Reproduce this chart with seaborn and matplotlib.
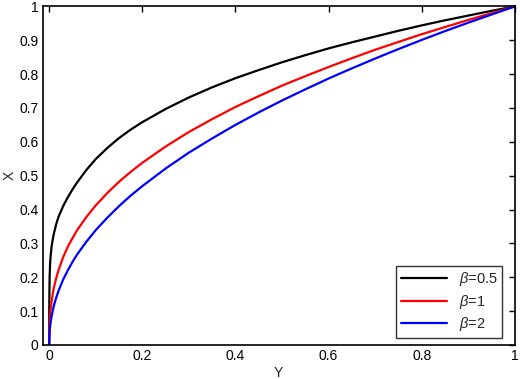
import matplotlib
matplotlib.use("Agg")
import matplotlib.pyplot as plt
import seaborn as sns
import pandas as pd

sns.set_theme(style="white")
plt.rcParams['font.family'] = ['Liberation Sans', 'DejaVu Sans']
plt.rcParams['mathtext.fontset'] = 'custom'
plt.rcParams['mathtext.it'] = 'Liberation Sans:italic'

y_vals = [0, 0.0002, 0.0005, 0.001, 0.002, 0.003, 0.005, 0.0075, 0.01, 0.015,
          0.02, 0.03, 0.04, 0.05, 0.06, 0.08, 0.1, 0.125, 0.15, 0.175, 0.2,
          0.25, 0.3, 0.35, 0.4, 0.45, 0.5, 0.55, 0.6, 0.65, 0.7, 0.75, 0.8,
          0.85, 0.9, 0.95, 1.0]
x_beta05 = [0, 0.10, 0.15, 0.20, 0.24, 0.26, 0.288, 0.31, 0.328, 0.356,
            0.378, 0.41, 0.436, 0.459, 0.48, 0.517, 0.549, 0.582, 0.611, 0.636, 0.658,
            0.697, 0.731, 0.761, 0.788, 0.812, 0.835, 0.856, 0.876, 0.894, 0.911, 0.928, 0.944,
            0.959, 0.973, 0.987, 1.0]
x_beta1 = [0, 0.03, 0.05, 0.07, 0.09, 0.105, 0.125, 0.15, 0.168, 0.197,
           0.22, 0.259, 0.29, 0.315, 0.339, 0.378, 0.412, 0.449, 0.482, 0.511, 0.538,
           0.586, 0.629, 0.667, 0.703, 0.735, 0.766, 0.794, 0.821, 0.847, 0.872, 0.895, 0.918,
           0.939, 0.960, 0.980, 1.0]
x_beta2 = [0, 0.015, 0.028, 0.039, 0.054, 0.065, 0.083, 0.10, 0.115, 0.139,
           0.159, 0.193, 0.220, 0.245, 0.267, 0.305, 0.339, 0.376, 0.410, 0.441, 0.469,
           0.521, 0.568, 0.610, 0.650, 0.687, 0.722, 0.755, 0.787, 0.817, 0.846, 0.874, 0.901,
           0.927, 0.952, 0.976, 1.0]
labels = [r'$\beta$=0.5', r'$\beta$=1', r'$\beta$=2']
colors = ['#000000', '#ff0000', '#0000ff']

frames = []
for lab, xs in zip(labels, [x_beta05, x_beta1, x_beta2]):
    frames.append(pd.DataFrame({'Y': y_vals, 'X': xs, 'series': lab}))
df = pd.concat(frames, ignore_index=True)

fig = plt.figure(figsize=(5.2, 3.79), dpi=100)
ax = fig.add_axes([0.082, 0.09, 0.908, 0.893])
sns.lineplot(data=df, x='Y', y='X', hue='series', palette=colors,
             hue_order=labels, linewidth=1.6, ax=ax, sort=False,
             estimator=None)

ax.set_xlim(-0.014, 1.0)
ax.set_ylim(0, 1)
ax.set_xticks([0, 0.2, 0.4, 0.6, 0.8, 1])
ax.set_xticklabels(['0', '0.2', '0.4', '0.6', '0.8', '1'])
ax.set_yticks([i / 10 for i in range(11)])
ax.set_yticklabels(['0'] + [f'{i/10:g}' for i in range(1, 10)] + ['1'])
ax.tick_params(direction='in', length=4, width=1, top=True, right=True,
               labelsize=10, colors='black', pad=3)
for s in ax.spines.values():
    s.set_visible(True)
    s.set_color('black')
    s.set_linewidth(1.2)
ax.set_xlabel('Y', fontsize=10, labelpad=2)
ax.set_ylabel('X', fontsize=10, labelpad=2)

leg = ax.legend(loc='lower right', fontsize=10.5, frameon=True, fancybox=False,
                edgecolor='black', handlelength=3.2, borderpad=0.3,
                labelspacing=0.3, bbox_to_anchor=(0.989, 0.0))
leg.get_frame().set_linewidth(1.0)
for line in leg.get_lines():
    line.set_linewidth(1.6)

fig.savefig('out.png', dpi=100)
